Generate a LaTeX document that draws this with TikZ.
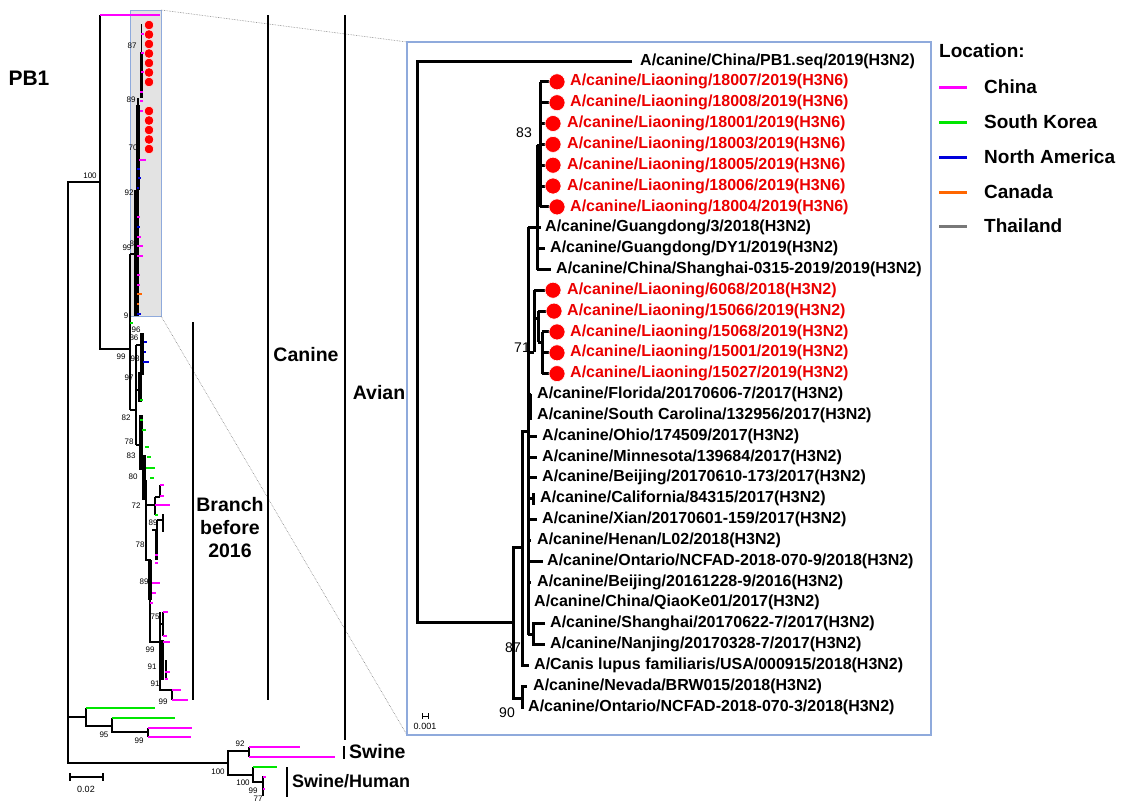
\documentclass[tikz,border=0pt]{standalone}
\usepackage{fontspec}
\setmainfont{Liberation Sans}
\definecolor{chn}{RGB}{255,0,255}
\definecolor{kor}{RGB}{0,230,0}
\definecolor{nam}{RGB}{0,0,220}
\definecolor{cnd}{RGB}{255,102,0}
\definecolor{tha}{RGB}{120,120,120}
\definecolor{zoombox}{RGB}{143,170,220}
\definecolor{hitred}{RGB}{235,0,0}

\begin{document}
\begin{tikzpicture}[x=1pt,y=-1pt,
    tree/.style={line width=2.2pt},
    thin/.style={line width=1.2pt},
    tip/.style={line width=2.4pt},
    ibranch/.style={line width=3pt},
    leaf/.style={anchor=west, inner sep=0pt, font=\fontsize{16}{18}\selectfont\bfseries},
    hit/.style={leaf, text=hitred},
    dot/.style={circle, fill=red, draw=white, line width=0.6pt, minimum size=16pt, inner sep=0pt},
    sdot/.style={circle, fill=red, draw=white, line width=0.4pt, minimum size=9.5pt, inner sep=0pt},
    boot/.style={inner sep=0pt, font=\fontsize{14}{16}\selectfont},
    bs/.style={inner sep=0pt, font=\fontsize{8}{9}\selectfont},
    grp/.style={inner sep=0pt, align=center, font=\fontsize{19.5}{23}\selectfont\bfseries},
    key/.style={anchor=west, inner sep=0pt, font=\fontsize{19}{21}\selectfont\bfseries}
  ]
  \useasboundingbox (0,0) rectangle (1127,807);

  % zoomed part and inset frame
  \draw[zoombox, fill=gray!22, line width=0.8pt] (130,10) rectangle (161,316);
  \draw[gray, densely dotted, line width=0.6pt] (161,10) -- (407,42);
  \draw[gray, densely dotted, line width=0.6pt] (161,316) -- (407,735);
  \draw[zoombox, line width=1.2pt] (407,42) rectangle (931,735);

  \node (pb1) [grp, font=\fontsize{21}{24}\selectfont\bfseries] at (29,78) {PB1};

  % whole tree
  \draw[tree] (100,182) -- (68,182) -- (68,763) -- (228,763);
  \draw[tree] (100,15) -- (100,349) -- (130,349);
  \draw[chn, tip] (100,15) -- (160,15);
  \node (b100) [bs] at (90,176) {100};
  \node (b99a) [bs] at (121,357) {99};

  % upper canine clade
  \draw[tree] (130,254) -- (130,410);
  \draw[tree] (130,254) -- (135,254);
  \fill (134,190) rectangle (138.5,316);
  \fill (136,105) rectangle (140,190);
  \fill (139.5,52) rectangle (143,98);
  \draw[thin] (141.5,24) -- (141.5,52);
  \draw[thin] (138,98) -- (138,106);
  \draw[chn, tip] (141,34) -- (144,34) (141,53) -- (144,53) (141,72) -- (144,72)
    (140,92) -- (143,92) (140,101) -- (143,101) (140,111) -- (143,111)
    (139,160) -- (146,160) (137,217) -- (140,217) (137,237) -- (141,237)
    (137,246) -- (143,246) (137,256) -- (143,256) (137,275) -- (140,275)
    (137,285) -- (140,285);
  \draw[nam, tip] (137,169) -- (140,169) (138,178) -- (141,178) (137,188) -- (139,188)
    (137,227) -- (140,227) (137,314) -- (141,314);
  \draw[cnd, tip] (137,294) -- (142,294) (137,304) -- (139,304);
  \node (s1) [sdot] at (149,25) {};
  \node (s2) [sdot] at (149,34.5) {};
  \node (s3) [sdot] at (149,44) {};
  \node (s4) [sdot] at (149,53.5) {};
  \node (s5) [sdot] at (149,63) {};
  \node (s6) [sdot] at (149,72.5) {};
  \node (s7) [sdot] at (149,82) {};
  \node (s8) [sdot] at (149,111) {};
  \node (s9) [sdot] at (149,120.5) {};
  \node (s10) [sdot] at (149,130) {};
  \node (s11) [sdot] at (149,139.5) {};
  \node (s12) [sdot] at (149,149) {};
  \node (b87a) [bs] at (132,46) {87};
  \node (b89a) [bs] at (131,100) {89};
  \node (b70) [bs] at (133,148) {70};
  \node (b92a) [bs] at (129,193) {92};
  \node (b99b) [bs] at (127,248) {99};
  \node (b87b) [bs] at (134,244) {87};
  \node (b9) [bs] at (126,316) {9};

  % lower canine clade, before 2016
  \draw[tree] (130,410) -- (136,410);
  \draw[thin] (136,345) -- (136,445);
  \draw[thin] (136,345) -- (140,345) (136,390) -- (138,390) (136,445) -- (139,445);
  \fill (140,333) rectangle (143.5,375);
  \fill (138,372) rectangle (141.5,402);
  \fill (139,415) rectangle (142.5,470);
  \fill (142,455) rectangle (146,500);
  \draw[thin] (146,480) -- (146,560) -- (150,560) -- (150,642) -- (160,642);
  \fill (148,560) rectangle (152,600);
  \draw[thin] (146,505) -- (155,505);
  \draw[thin] (155,497) -- (155,515);
  \draw[thin] (155,497) -- (160,497) (160,485) -- (160,497);
  \draw[thin] (152,530) -- (157,530) (157,520) -- (157,545) (157,520) -- (163,520) (163,514) -- (163,532);
  \fill (155,530) rectangle (158,560);
  \draw[thin] (160,612) -- (160,690) -- (172,690) -- (172,700);
  \fill (160,640) rectangle (163.5,680);
  \draw[thin] (160,624) -- (163,624) (163,612) -- (163,636) (166,660) -- (166,678);
  \draw[nam, tip] (144,342) -- (147,342) (144,352) -- (146,352) (143,362) -- (149,362);
  \draw[kor, tip] (130,323) -- (133,323) (140,400) -- (143,400) (140,420) -- (143,420)
    (142,430) -- (146,430) (145,447) -- (149,447) (147,457) -- (151,457)
    (146,468) -- (155,468) (150,478) -- (154,478) (155,515) -- (158,515);
  \draw[chn, tip] (160,485) -- (164,485) (160,496) -- (164,496) (155,505) -- (170,505)
    (155,555) -- (158,555) (155,563) -- (158,563) (152,583) -- (160,583)
    (152,593) -- (156,593) (150,603) -- (153,603) (163,612) -- (168,612)
    (163,636) -- (167,636) (163,642) -- (170,642) (165,672) -- (170,672)
    (165,679) -- (168,679) (172,690) -- (181,690) (172,700) -- (188,700);
  \node (b96) [bs] at (136,330) {96};
  \node (b86) [bs] at (134,338) {86};
  \node (b98) [bs] at (135,359) {98};
  \node (b97) [bs] at (129,378) {97};
  \node (b82) [bs] at (126,418) {82};
  \node (b78a) [bs] at (129,442) {78};
  \node (b83a) [bs] at (131,456) {83};
  \node (b80) [bs] at (133,477) {80};
  \node (b72) [bs] at (136,506) {72};
  \node (b89b) [bs] at (153,523) {89};
  \node (b78b) [bs] at (140,545) {78};
  \node (b89c) [bs] at (144,582) {89};
  \node (b75) [bs] at (155,617) {75};
  \node (b99c) [bs] at (150,650) {99};
  \node (b91a) [bs] at (152,667) {91};
  \node (b91b) [bs] at (155,684) {91};
  \node (b99d) [bs] at (163,702) {99};

  % other lineages
  \draw[tree] (68,717) -- (86,717);
  \draw[tree] (86,708) -- (86,726) -- (112,726);
  \draw[tree] (112,718) -- (112,732) -- (148,732);
  \draw[tree] (148,728) -- (148,737);
  \draw[kor, tip] (86,708) -- (155,708) (112,718) -- (175,718);
  \draw[chn, tip] (148,728) -- (192,728) (148,737) -- (191,737);
  \node (b95) [bs] at (104,735) {95};
  \node (b99e) [bs] at (139,741) {99};

  \draw[tree] (249,751) -- (228,751) -- (228,775) -- (253,775);
  \draw[tree] (249,747) -- (249,757);
  \draw[chn, tip] (249,747) -- (300,747) (249,757) -- (335,757);
  \draw[tree] (253,767) -- (253,782) -- (263,782);
  \draw[tree] (263,776) -- (263,796);
  \draw[kor, tip] (253,767) -- (277,767);
  \draw[chn, tip] (263,777) -- (266,777) (263,789) -- (265,789);
  \node (b92b) [bs] at (240,744) {92};
  \node (b100b) [bs] at (218,772) {100};
  \node (b100c) [bs] at (243,783) {100};
  \node (b99f) [bs] at (253,791) {99};
  \node (b77) [bs] at (258,799) {77};

  % scale
  \draw[line width=1.5pt] (70,773) -- (70,781) (70,777) -- (103,777) (103,773) -- (103,781);
  \node (sc) [inner sep=0pt, font=\fontsize{9}{10}\selectfont] at (86,789) {0.02};

  % groups
  \draw[line width=2pt] (193,322) -- (193,700);
  \draw[line width=2pt] (268,15) -- (268,700);
  \draw[line width=2pt] (345,15) -- (345,740);
  \draw[line width=2pt] (344,746) -- (344,759);
  \draw[line width=2pt] (287,767) -- (287,797);
  \node (before) [grp] at (230,528) {Branch\\before\\2016};
  \node (canine) [grp] at (306,355) {Canine};
  \node (avian) [grp] at (379,393) {Avian};
  \node (swine) [grp, anchor=west] at (349,752) {Swine};
  \node (swhu) [grp, anchor=west, font=\fontsize{18}{20}\selectfont\bfseries] at (292,781) {Swine/Human};

  % inset tree
  \draw[ibranch] (632,61) -| (417,622) -- (513,622);
  \draw[ibranch] (522,547) -| (513,698) -- (522,698);
  \draw[ibranch] (527,686) -| (522,707) -- (524,707);
  \draw[ibranch] (528,431) -| (522,665) -- (529,665);
  \draw[ibranch] (528,227) -- (528,635);
  \draw[ibranch] (528,227) -- (537,227);
  \draw[ibranch] (540,82) -- (540,207);
  \draw[ibranch] (537,145) -- (540,145);
  \draw[ibranch] (537,145) -- (537,270);
  \draw[ibranch] (540,81.8) -- (550,81.8) (540,102.7) -- (550,102.7) (540,123.5) -- (546,123.5)
    (540,144.4) -- (546,144.4) (540,165.2) -- (546,165.2) (540,186) -- (546,186)
    (540,206.9) -- (550,206.9);
  \draw[ibranch] (537,227.7) -- (541,227.7) (537,248.6) -- (545,248.6) (537,269.4) -- (551,269.4);
  \draw[ibranch] (528,352) -- (534,352) (534,290) -- (534,352);
  \draw[ibranch] (534,318) -- (538,318) (538,311) -- (538,342);
  \draw[ibranch] (538,342) -- (542,342) (542,332) -- (542,374);
  \draw[ibranch] (534,290.2) -- (546,290.2) (538,311.1) -- (547,311.1)
    (542,331.9) -- (550,331.9) (542,352.8) -- (550,352.8) (542,373.6) -- (550,373.6);
  \fill (528,394) rectangle (532,420);
  \draw[ibranch] (528,394.4) -- (531,394.4) (528,415.3) -- (531,415.3)
    (528,436.1) -- (537,436.1) (528,457) -- (537,457) (528,477.8) -- (537,477.8)
    (528,498.6) -- (534,498.6) (528,519.5) -- (537,519.5) (528,540.3) -- (531,540.3)
    (528,561.2) -- (543,561.2) (528,582) -- (531,582);
  \draw[ibranch] (533,493) -- (533,505);
  \draw[ibranch] (528,634) -- (533,634);
  \draw[ibranch] (545,623.7) -| (533,644.5) -- (545,644.5);
  \node (b83) [boot] at (524,133) {83};
  \node (b71) [boot] at (522,348) {71};
  \node (b87) [boot] at (513,648) {87};
  \node (b90) [boot] at (507,713) {90};
  \draw[line width=1pt] (422,713) -- (422,719) (422,716) -- (428,716) (428,713) -- (428,719);
  \node (isc) [inner sep=0pt, font=\fontsize{9}{10}\selectfont] at (425,726) {0.001};

  % inset leaves
  \node (d1) [dot] at (557,81.8) {};
  \node (d2) [dot] at (557,102.7) {};
  \node (d3) [dot] at (553,123.5) {};
  \node (d4) [dot] at (553,144.4) {};
  \node (d5) [dot] at (553,165.2) {};
  \node (d6) [dot] at (553,186.0) {};
  \node (d7) [dot] at (557,206.9) {};
  \node (d8) [dot] at (553,290.2) {};
  \node (d9) [dot] at (554,311.1) {};
  \node (d10) [dot] at (557,331.9) {};
  \node (d11) [dot] at (557,352.8) {};
  \node (d12) [dot] at (557,373.6) {};
  \node (l0) [leaf] at (640,61) {A/canine/China/PB1.seq/2019(H3N2)};
  \node (l1) [hit] at (570,81.8) {A/canine/Liaoning/18007/2019(H3N6)};
  \node (l2) [hit] at (570,102.7) {A/canine/Liaoning/18008/2019(H3N6)};
  \node (l3) [hit] at (567,123.5) {A/canine/Liaoning/18001/2019(H3N6)};
  \node (l4) [hit] at (567,144.4) {A/canine/Liaoning/18003/2019(H3N6)};
  \node (l5) [hit] at (567,165.2) {A/canine/Liaoning/18005/2019(H3N6)};
  \node (l6) [hit] at (567,186.0) {A/canine/Liaoning/18006/2019(H3N6)};
  \node (l7) [hit] at (570,206.9) {A/canine/Liaoning/18004/2019(H3N6)};
  \node (l8) [leaf] at (545,227.7) {A/canine/Guangdong/3/2018(H3N2)};
  \node (l9) [leaf] at (550,248.6) {A/canine/Guangdong/DY1/2019(H3N2)};
  \node (l10) [leaf] at (556,269.4) {A/canine/China/Shanghai-0315-2019/2019(H3N2)};
  \node (l11) [hit] at (567,290.2) {A/canine/Liaoning/6068/2018(H3N2)};
  \node (l12) [hit] at (567,311.1) {A/canine/Liaoning/15066/2019(H3N2)};
  \node (l13) [hit] at (570,331.9) {A/canine/Liaoning/15068/2019(H3N2)};
  \node (l14) [hit] at (570,352.8) {A/canine/Liaoning/15001/2019(H3N2)};
  \node (l15) [hit] at (570,373.6) {A/canine/Liaoning/15027/2019(H3N2)};
  \node (l16) [leaf] at (537,394.4) {A/canine/Florida/20170606-7/2017(H3N2)};
  \node (l17) [leaf] at (537,415.3) {A/canine/South Carolina/132956/2017(H3N2)};
  \node (l18) [leaf] at (542,436.1) {A/canine/Ohio/174509/2017(H3N2)};
  \node (l19) [leaf] at (542,457.0) {A/canine/Minnesota/139684/2017(H3N2)};
  \node (l20) [leaf] at (542,477.8) {A/canine/Beijing/20170610-173/2017(H3N2)};
  \node (l21) [leaf] at (540,498.6) {A/canine/California/84315/2017(H3N2)};
  \node (l22) [leaf] at (542,519.5) {A/canine/Xian/20170601-159/2017(H3N2)};
  \node (l23) [leaf] at (537,540.3) {A/canine/Henan/L02/2018(H3N2)};
  \node (l24) [leaf] at (547,561.2) {A/canine/Ontario/NCFAD-2018-070-9/2018(H3N2)};
  \node (l25) [leaf] at (537,582.0) {A/canine/Beijing/20161228-9/2016(H3N2)};
  \node (l26) [leaf] at (534,602.8) {A/canine/China/QiaoKe01/2017(H3N2)};
  \node (l27) [leaf] at (550,623.7) {A/canine/Shanghai/20170622-7/2017(H3N2)};
  \node (l28) [leaf] at (550,644.5) {A/canine/Nanjing/20170328-7/2017(H3N2)};
  \node (l29) [leaf] at (534,665.4) {A/Canis lupus familiaris/USA/000915/2018(H3N2)};
  \node (l30) [leaf] at (533,686.2) {A/canine/Nevada/BRW015/2018(H3N2)};
  \node (l31) [leaf] at (528,707.0) {A/canine/Ontario/NCFAD-2018-070-3/2018(H3N2)};

  % legend
  \node (loc) [key] at (939,51) {Location:};
  \draw[chn, line width=3pt] (939,87) -- (967,87);
  \draw[kor, line width=3pt] (939,122) -- (967,122);
  \draw[nam, line width=3pt] (939,157) -- (967,157);
  \draw[cnd, line width=3pt] (939,192) -- (967,192);
  \draw[tha, line width=3pt] (939,226) -- (967,226);
  \node (k1) [key] at (984,87) {China};
  \node (k2) [key] at (984,122) {South Korea};
  \node (k3) [key] at (984,157) {North America};
  \node (k4) [key] at (984,192) {Canada};
  \node (k5) [key] at (984,226) {Thailand};
\end{tikzpicture}
\end{document}
